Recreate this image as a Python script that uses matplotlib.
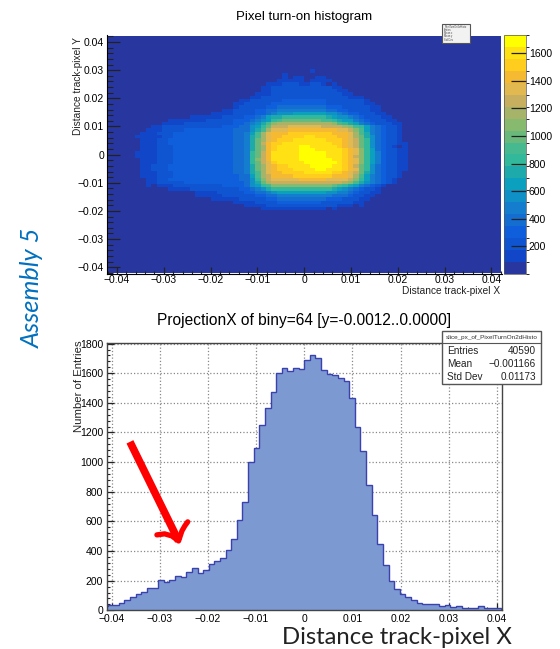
import numpy as np
from matplotlib import pyplot as plt
from matplotlib.colors import BoundaryNorm, ListedColormap
from matplotlib.lines import Line2D
from matplotlib.patches import Rectangle
from matplotlib.ticker import FuncFormatter, MultipleLocator

plt.rcParams['font.family'] = ['Liberation Sans', 'DejaVu Sans']

# 2d histogram, one char per bin, 0-9 then a-j = colour level
# rows start at the top of the plot, rows not listed are empty
first_row = 10
hist_rows = [
    '0000000000000000000000000000000000000' + '1',
    '00000000000000000000000000000000' + '1',
    '00000000000000000000000000000000' + '10110011',
    '0000000000000000000000000000000' + '1111101111',
    '00000000000000000000000000000' + '1112221122101',
    '0000000000000000000000000000' + '112222222222211',
    '0000000000000000000000000000' + '1122222222222211',
    '000000000000000000000000000' + '111222222222222211',
    '00000000000000000000000000' + '112222222222222222111',
    '000000000000000000000000' + '11222222' + '33333333' + '22222221',
    '00000000000000000000000' + '1122222' + '3333333333' + '222222211',
    '00000000000000000000000' + '1222223' + '3444444444' + '3332222211',
    '000000000000000000000' + '11222233' + '44555555555' + '4433222211',
    '0000000000000000000' + '1111222233' + '4566677777766' + '543322211',
    '000000000000000' + '1111112222334' + '578899999999876' + '654322211',
    '00000000000' + '11111112222233345' + '679abbbbbbbaa987' + '754322211',
    '0000000000' + '11112222222223345' + '68acddddddddddca98' + '754322211',
    '00000000' + '112222222222233344' + '679beeeffffffeeeedca' + '97543221',
    '0000000' + '1112222333333333444' + '68adfffgggggggggffec' + 'a7543221',
    '000000' + '11122233333333333445' + '7adfggghhhhhhhhgggfd' + 'a8543221',
    '00000' + '111112233333333333445' + '8adfgghhhhiihhhhggfd' + 'b8643221',
    '000000' + '11122333333333333445' + '8bdfghhhiiiiiihhhgfe' + 'b9643221',
    '000000' + '11122333333333333445' + '8beghhiiiiiiiiihhgfe' + 'b96432211',
    '000000' + '11122233333333333445' + '8bdghiiiijjiiiiihgfe' + 'b96432101',
    '000000' + '11122233333333333445' + '8bdghiiiijjjiiiiihgf' + 'c97432211',
    '00000' + '111122233333333333445' + '9begiiiiijjjjjiiihgf' + 'c97532211',
    '00000' + '111122233333333333445' + '9begiiiiijjjjjiiihge' + 'c97532211',
    '000000' + '11122233333333333445' + '9cegiiiiijjjjjjiihgf' + 'c97532211',
    '000000' + '11122233333333333445' + '9befhiiiiijjjjjjihgf' + 'c97532211',
    '000000' + '11222333333333333445' + '8bdfghhiiiijjjjiihge' + 'b96432211',
    '000000' + '11222333333333333445' + '8bdfghhhiiiijjiiihgf' + 'b96432211',
    '000000' + '11122233333333333445' + '8adfgghhhhiiiiihhgfe' + 'b8643221',
    '000000' + '11122233333333333344' + '7adegggghhhhhhhgggfd' + 'a7543221',
    '0000000' + '1122333333333333344' + '69cefffffgggggffffec' + '9754321',
    '0000000' + '1122222333333333334' + '68bdeeeeeeeeeeeeedca' + '8654321',
    '0000000' + '10' + '11122222222233334' + '679acccccccccccba98' + '754321',
    '00000000000' + '111122222222233' + '456899999999999876' + '543221',
    '0000000000000000' + '1111222223' + '344567777777776655' + '432211',
    '0000000000000000' + '1111122222' + '233445555555555444' + '32211',
    '0000000000000000000' + '1111122' + '222334444444443332' + '2211',
    '00000000000000000000000' + '111' + '122223333333322222' + '211',
    '0000000000000000000000000' + '1' + '1112222222222222111' + '01',
    '0000000000000000000000000000' + '111111111111' + '01',
]

level_colors = ['#28379f', '#1146c8', '#0f55d2', '#0f5fdc', '#146ed2', '#147dcd',
                '#0f91c8', '#0aa0be', '#1eaaaa', '#32b99b', '#46b991', '#69b97d',
                '#87b96e', '#a5b469', '#c8af5f', '#e1b950', '#f5b932', '#ffcd1e',
                '#ffe114', '#ffff00']

# projection, number of entries per bin
proj_values = [30, 34, 34, 50, 72, 90, 110, 122, 149, 153, 203, 190, 203, 232, 228, 260,
               288, 255, 270, 315, 336, 352, 410, 484, 610, 732, 998, 1092, 1252, 1365,
               1470, 1600, 1632, 1615, 1632, 1628, 1690, 1723, 1700, 1622, 1595, 1588,
               1570, 1547, 1435, 1236, 1074, 845, 646, 446, 304, 198, 142, 113, 88, 68,
               52, 43, 41, 45, 32, 34, 25, 29, 18, 18, 16, 27, 18, 14, 14, 12]

stat_names = ['Entries', 'Mean', 'Std Dev']
stat_values = ['40590', '\u22120.001166', '0.01173']

# red arrow painted on the projection
arrow_x = [-0.0362, -0.0261]
arrow_y = [1137, 468]
head_x = [-0.0306, -0.0290, -0.0275, -0.0261, -0.0254, -0.0248, -0.0242]
head_y = [509, 516, 502, 468, 536, 570, 597]

W, H = 560, 649


def ax_box(left, top, right, bottom):
    return [left / W, 1 - bottom / H, (right - left) / W, (bottom - top) / H]


def tick_fmt(v, pos):
    if abs(v) < 1e-9:
        return '0'
    return f'{v:.2f}'.replace('-', '\u2212')


fig = plt.figure(figsize=(W / 100, H / 100), dpi=100)

### ----------------- 2d histogram ----------------- ###

edges = np.linspace(-0.042, 0.042, 73)
hist = np.zeros((72, 72))
for i, row in enumerate(hist_rows):
    for j, c in enumerate(row):
        hist[first_row + i, j] = int(c, 20)
hist = (hist[::-1] + 0.5) * 86.6

levels = np.linspace(0, 1732, 21)
cmap = ListedColormap(level_colors)
norm = BoundaryNorm(levels, cmap.N)

ax = fig.add_axes(ax_box(106.7, 35, 501.7, 274))
mesh = ax.pcolormesh(edges, edges, hist, cmap=cmap, norm=norm)
ax.set_xlim(-0.0422, 0.0422)
ax.set_ylim(-0.0424, 0.0425)
for axis in (ax.xaxis, ax.yaxis):
    axis.set_major_locator(MultipleLocator(0.01))
    axis.set_minor_locator(MultipleLocator(0.002))
    axis.set_major_formatter(FuncFormatter(tick_fmt))
ax.tick_params(axis='x', which='major', direction='in', length=5, width=0.9, labelsize=7.5, pad=1, color='#222222')
ax.tick_params(axis='x', which='minor', direction='in', length=2.5, width=0.8, color='#222222')
ax.tick_params(axis='y', which='major', direction='in', length=9, width=0.9, labelsize=7.5, pad=2, color='#222222')
ax.tick_params(axis='y', which='minor', direction='in', length=4.5, width=0.8, color='#222222')
for side in ('top', 'right'):
    ax.spines[side].set_visible(False)
ax.set_title('Pixel turn-on histogram', fontsize=9.5, x=0.5, y=1, pad=10.6)
fig.text(500 / W, 1 - 291 / H, 'Distance track-pixel X', ha='right', va='center', fontsize=7.3, color='#222222')
fig.text(78 / W, 1 - 86 / H, 'Distance track-pixel Y', rotation=90, ha='center', va='center', fontsize=7.3, color='#222222')

cax = fig.add_axes(ax_box(503.5, 35, 526, 274))
cb = fig.colorbar(mesh, cax=cax, ticks=np.arange(200, 1601, 200), spacing='proportional')
cb.ax.tick_params(direction='in', length=11, width=0.9, labelsize=7.5, pad=2, left=False, right=True, color='#222222')
cb.outline.set_linewidth(0.5)
cb.outline.set_edgecolor('#555555')
cb.dividers.set_visible(False)

# tiny stats box of the 2d histogram
fig.add_artist(Rectangle((442 / W, 1 - 42.7 / H), 27.5 / W, 18.4 / H, transform=fig.transFigure,
                         facecolor='#f2f2f2', edgecolor='#555555', linewidth=0.8, zorder=5))
for i, name in enumerate(['PixelTurnOn2dHisto', 'Entries', 'Mean x', 'Mean y', 'Std Dev']):
    fig.text(455.5 / W if i == 0 else 443.5 / W, 1 - (26.8 + 3.2 * i) / H, name, fontsize=1.8,
             ha='center' if i == 0 else 'left', va='center', color='#444444', zorder=6)

### ----------------- Projection ----------------- ###

ax2 = fig.add_axes(ax_box(107.3, 342.7, 501.7, 610.3))
ax2.stairs(proj_values, edges, fill=True, color='#7d99d2')
ax2.stairs(proj_values, edges, color='#3a42ae', linewidth=1.0, baseline=0)
ax2.set_xlim(-0.0409, 0.041)
ax2.set_ylim(0, 1806)
ax2.set_axisbelow(True)
ax2.grid(True, which='major', linestyle=':', linewidth=0.9, color='#888888')
ax2.xaxis.set_major_locator(MultipleLocator(0.01))
ax2.xaxis.set_minor_locator(MultipleLocator(0.002))
ax2.xaxis.set_major_formatter(FuncFormatter(tick_fmt))
ax2.yaxis.set_major_locator(MultipleLocator(200))
ax2.yaxis.set_minor_locator(MultipleLocator(40))
ax2.tick_params(which='major', direction='in', length=5, width=0.9, labelsize=7.5, pad=3, color='#222222')
ax2.tick_params(which='minor', direction='in', length=2.5, width=0.8, color='#222222')
for side in ('top', 'right', 'left', 'bottom'):
    ax2.spines[side].set_color('#444444')
    ax2.spines[side].set_linewidth(1.0)
ax2.set_title('ProjectionX of biny=64 [y=-0.0012..0.0000]', fontsize=11.2, pad=13)
fig.text(79 / W, 1 - 386 / H, 'Number of Entries', rotation=90, ha='center', va='center', fontsize=8.2, color='#222222')

ax2.plot(arrow_x, arrow_y, color='#ff0000', linewidth=5.5, solid_capstyle='butt', zorder=8)
ax2.plot(head_x, head_y, color='#ff0000', linewidth=3.8, solid_capstyle='round', solid_joinstyle='round', zorder=8)

# stats box, hangs over the top right corner
fig.add_artist(Rectangle((442.3 / W, 1 - 384 / H), 98.4 / W, 53 / H, transform=fig.transFigure,
                         facecolor='white', edgecolor='#555555', linewidth=1.0, zorder=5))
fig.add_artist(Line2D([442.3 / W, 540.7 / W], [1 - 342.7 / H, 1 - 342.7 / H], color='#555555', linewidth=0.8, zorder=6))
fig.text(491.5 / W, 1 - 337 / H, 'slice_px_of_PixelTurnOn2dHisto', fontsize=4.6, ha='center', va='center', color='#333333', zorder=6)
for i in range(len(stat_names)):
    y = 1 - (351 + 13.2 * i) / H
    fig.text(447 / W, y, stat_names[i], fontsize=7.2, ha='left', va='center', color='#222222', zorder=6)
    fig.text(536 / W, y, stat_values[i], fontsize=7.2, ha='right', va='center', color='#222222', zorder=6)

### ----------------- Slide text ----------------- ###

fig.text(397 / W, 1 - 638 / H, 'Distance track-pixel X', fontsize=17.2, family='Lato', ha='center', va='center', color='#222222')
fig.text(32 / W, 1 - 288 / H, 'Assembly 5', fontsize=18.3, family='Lato', style='italic', rotation=90,
         ha='center', va='center', color='#0070c0')

fig.savefig('out.png', dpi=100)
